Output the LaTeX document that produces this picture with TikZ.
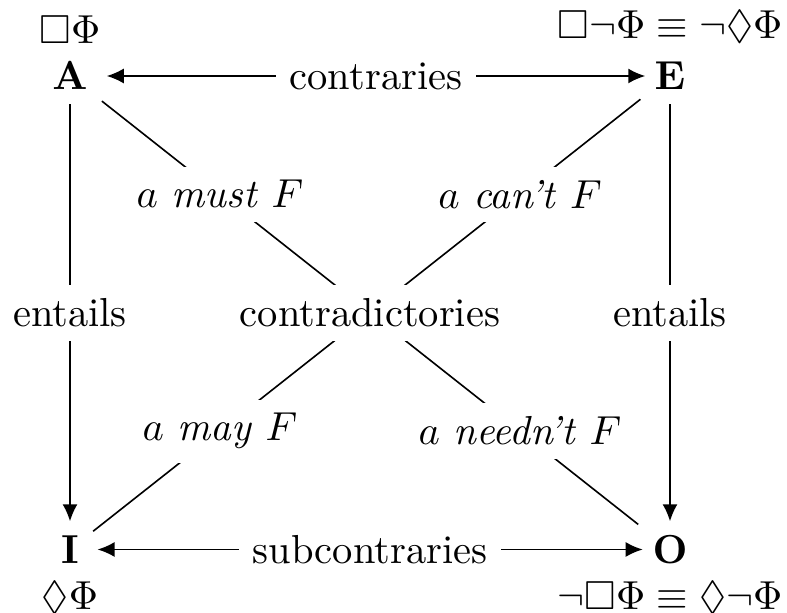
\documentclass[tikz,border=0pt]{standalone}
\usepackage{amssymb}
\usetikzlibrary{arrows.meta,calc}
\begin{document}
\begin{tikzpicture}[x=0.247pt,y=-0.247pt,
  lab/.style={fill=white},
  tipkind/.tip={Latex[length=4.2pt,width=3.7pt]},
  arr/.style={-tipkind},
  darr/.style={tipkind-tipkind},
  line width=0.4pt]
\useasboundingbox (0,0) rectangle (787,613);
% corners
\node (A) at (70,76) {$\mathbf{A}$};
\node (E) at (670,76) {$\mathbf{E}$};
\node (I) at (70,549.5) {$\mathbf{I}$};
\node (O) at (670,549.5) {$\mathbf{O}$};
% modal formulas
\node[anchor=south,yshift=-2.4pt] (fA) at (A.north) {$\Box\Phi$};
\node[anchor=south,yshift=-2.4pt] (fE) at (E.north) {$\Box\neg\Phi \equiv \neg\Diamond\Phi$};
\node[anchor=north,yshift=2.5pt] (fI) at (I.south) {$\Diamond\Phi$};
\node[anchor=north,yshift=2.5pt] (fO) at (O.south) {$\neg\Box\Phi \equiv \Diamond\neg\Phi$};
% diagonals
\draw (A) -- (O);
\draw (E) -- (I);
\node[lab] (must) at ($(A)!.25!(O)$) {$a$ \textit{must} $F$};
\node[lab] (cant) at ($(E)!.25!(I)$) {$a$ \textit{can't} $F$};
\node[lab] (may) at ($(E)!.75!(I)$) {$a$ \textit{may} $F$};
\node[lab] (neednt) at ($(A)!.75!(O)$) {$a$ \textit{needn't} $F$};
\node[lab] (contra) at ($(A)!.5!(O)$) {contradictories};
% sides
\draw[darr] ([xshift=1.2pt]A.east) -- node[lab] (contr) {contraries} ([xshift=1.2pt]E.west);
\draw[darr] ([xshift=1.1pt]I.east) -- node[lab] (subc) {subcontraries} ([xshift=1.1pt]O.west);
\draw[arr] (A) -- node[lab] (entL) {entails} (I);
\draw[arr] (E) -- node[lab] (entR) {entails} (O);
\end{tikzpicture}
\end{document}
